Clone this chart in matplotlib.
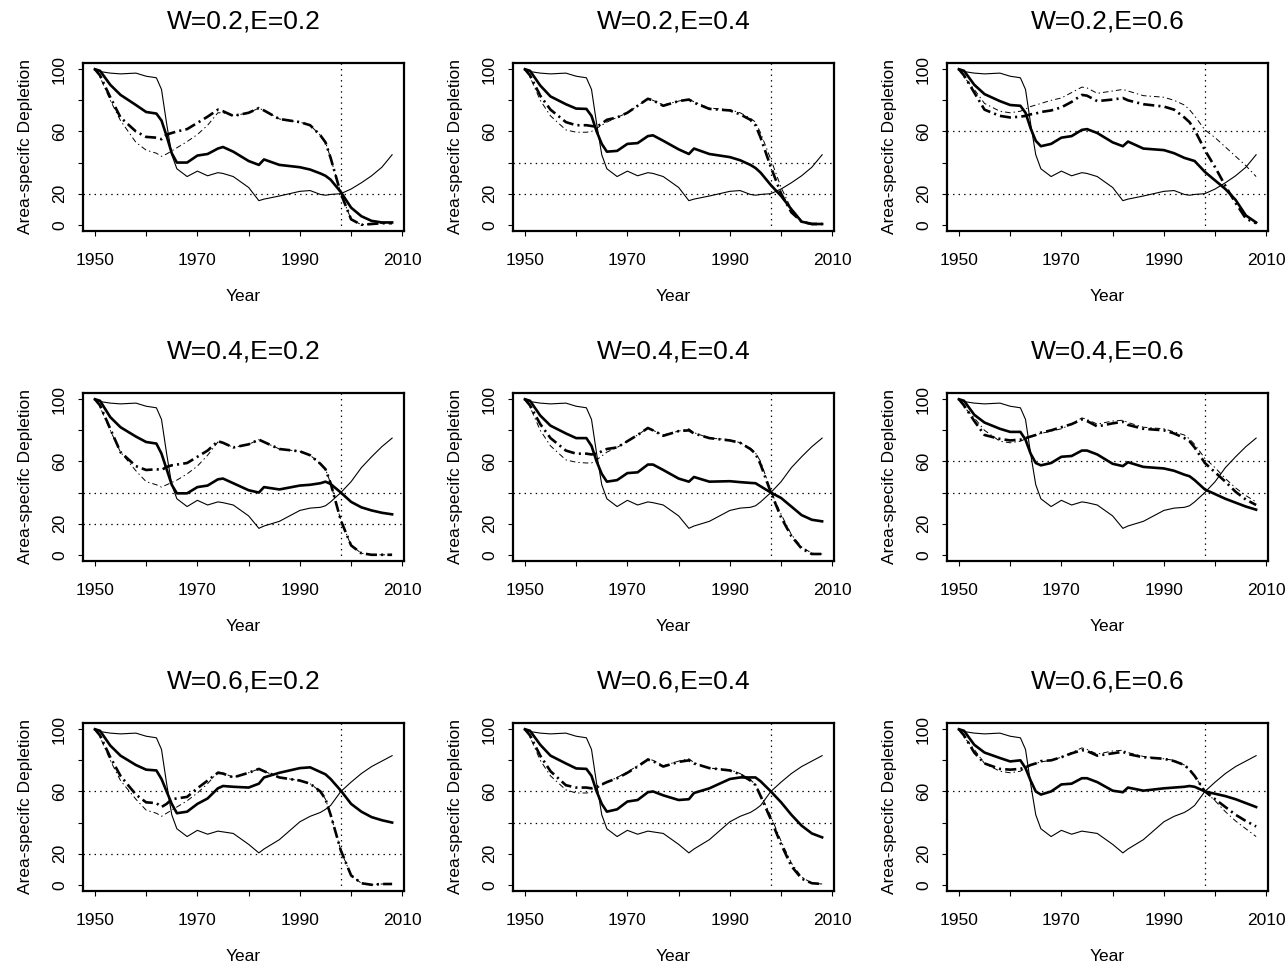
import matplotlib
matplotlib.use("Agg")
import matplotlib.pyplot as plt

plt.rcParams['font.family'] = ['Liberation Sans', 'DejaVu Sans']
plt.rcParams['lines.scale_dashes'] = False

years = [1950, 1951, 1953, 1955, 1958, 1960, 1962, 1963, 1964, 1965, 1966, 1968,
         1970, 1972, 1974, 1975, 1977, 1980, 1982, 1983, 1986, 1990, 1992, 1994,
         1995, 1996, 1998, 2000, 2002, 2004, 2006, 2008]

W_vals = [0.2, 0.4, 0.6]   # rows
E_vals = [0.2, 0.4, 0.6]   # columns
ref_year = 1998

# thin solid line, one per row (W)
thin_w = [
    [100, 98.5, 97.5, 97, 97.5, 95.5, 94.5, 87, 65, 45, 36, 31, 34.5, 31.5, 33.5, 33,
     31, 24, 15.5, 16.5, 18.5, 21.5, 22, 19.5, 19, 19.5, 20, 23, 27, 31.5, 37, 45],
    [100, 98.5, 97.5, 97, 97.5, 95.5, 94.5, 87, 65, 45, 36, 31, 35, 32, 34, 33.5,
     32, 25, 17, 18.5, 21.5, 28.5, 30, 30.5, 31.5, 34, 40, 47, 56, 63, 69.5, 75],
    [100, 98.5, 97.5, 97, 97.5, 95.5, 94.5, 87, 65, 45, 36, 31, 35, 32.5, 34.5, 34,
     33, 26, 20.5, 23, 29, 40.5, 44, 46.5, 48.5, 51, 60, 66, 71.5, 76, 79.5, 83],
]

# thick solid line, [row][col]
thick = [
    [[100, 99, 90, 83.5, 77, 72.5, 71.5, 67, 57, 46, 40, 40, 44.5, 45.5, 49, 50, 47, 41,
      38.5, 42, 38.5, 37, 35.5, 33, 31.5, 29, 21, 11, 5.5, 2.5, 1.5, 1.5],
     [100, 99, 89.5, 82.5, 77.5, 74.7, 74.5, 70, 60, 52, 47, 47.5, 52, 52.5, 57, 57.5, 54,
      48.5, 45.5, 49, 45.5, 43.5, 41.5, 38.5, 36.5, 33.5, 25.5, 18.5, 10, 2, 0.5, 0.5],
     [100, 99, 90, 84, 79.5, 77, 76.5, 72, 62, 54, 50.5, 52, 56, 57, 61, 61.5, 59, 53,
      50.5, 53.5, 49, 48, 46, 43, 42, 41, 34, 28.5, 23, 16, 6, 1.5]],
    [[100, 99, 88.5, 82, 76, 72.5, 71.5, 65, 55, 45, 39.5, 39.5, 43.5, 44.5, 48.5, 49, 46,
      41.5, 40, 43.5, 42, 44.5, 45, 46, 47, 45.5, 40, 34, 30.5, 28.5, 27, 26],
     [100, 99, 89.5, 83, 78, 75, 75, 70, 60, 52, 47, 48, 52.5, 53, 58, 58, 54.5, 49, 47,
      50, 47, 47.3, 46.7, 46.2, 46, 44, 40, 36.5, 31, 25.5, 22.5, 21.5],
     [100, 99, 90, 85, 81, 79, 79, 74, 65, 59, 57.5, 59, 63, 63.5, 67, 67, 64.5, 58.5, 57,
      59.5, 56.5, 55.5, 54, 51.5, 50.5, 48, 42, 39, 36, 33.5, 31, 29]],
    [[100, 99, 89.5, 83, 77, 74, 73.5, 68, 60, 52, 46, 47, 52, 55.5, 62, 63.5, 63, 62.5,
      65, 69, 72, 75, 75.5, 72.5, 71, 68, 60.5, 52, 47, 43.5, 41.5, 40],
     [100, 99, 90, 83, 78, 74.8, 74.5, 70, 60, 52, 47, 48.5, 53.5, 54.5, 59.5, 60, 57.5,
      54.5, 55, 59, 62, 68, 69, 69, 69, 66.5, 60, 53, 45, 38, 33, 30.5],
     [100, 99, 90, 85, 81.5, 79.3, 80, 75, 67, 60, 58, 60, 64.5, 65, 68.5, 68.5, 66, 60.5,
      59.5, 62.5, 60.5, 62, 62.5, 63, 63.5, 63, 60, 58.5, 57, 55, 52.5, 50]],
]

# thick dash-dot line, [row][col]
dash = [
    [[100, 96, 82, 69, 60, 56.5, 56, 55, 58, 59, 60, 61.5, 65.5, 69.5, 74, 73, 70, 72, 75,
      73.5, 68, 66, 64, 57.5, 53, 43, 20, 3.5, 0, 0.5, 1, 1],
     [100, 96, 83, 74, 66, 64, 64, 63.5, 63, 65, 67.5, 69, 72, 76.5, 81, 80, 76.5, 79.5,
      80.5, 78.5, 74.5, 73.5, 71, 67.5, 64, 56, 37, 20, 8, 2, 0.5, 0.5],
     [100, 96, 85, 74, 70, 69, 69.5, 70, 71, 71.5, 72.5, 73.5, 75.5, 79, 83.5, 83, 79.5,
      80.5, 81.5, 80, 77.5, 76, 74, 69, 66, 61, 48, 37, 25, 14, 4, 1]],
    [[100, 96, 81, 66, 57, 54.5, 55, 54.5, 56.5, 57.5, 58, 59, 63, 67, 73, 72, 69, 71, 74,
      72.5, 68, 66.5, 64, 58.5, 55, 46, 22, 6, 1, 0, 0, 0],
     [100, 96, 84, 75, 67, 65, 65, 64.5, 65, 66.5, 68, 69, 73, 77, 81.5, 80, 76.5, 79.5,
      80, 78, 75, 73.5, 72, 68, 65, 58, 40, 24, 12, 4, 0.5, 0.5],
     [100, 96, 86, 77, 74.5, 73.5, 74, 75, 76, 77, 78.5, 80, 82, 84, 87, 86, 82.5, 84.5,
      85.5, 83.5, 81, 80, 78, 75, 73, 69, 59, 53, 47, 40.5, 35.5, 32]],
    [[100, 96, 82, 70, 58, 53, 52.5, 50, 52, 55, 55.5, 56.5, 62, 67, 72, 71.5, 69, 72,
      74.5, 73, 69, 67, 65, 60, 55, 45, 22, 6, 1, 0, 0.5, 0.5],
     [100, 96, 83, 73, 64, 62.5, 62.5, 62, 63, 64.5, 66, 68.5, 72, 76, 80.5, 79.5, 76, 79,
      80, 78, 75, 73.5, 71, 67, 64, 57, 42, 26, 12, 4, 1, 0.5],
     [100, 96, 85, 78, 74.5, 74, 74.5, 75.5, 77, 78, 79.5, 80, 82, 84.5, 86.5, 86, 83,
      84.5, 85.5, 84, 82, 81, 79.5, 77, 74, 70, 60, 55, 50, 45, 41, 37.5]],
]

# thin dot-dash line, [row][col]
dotdash = [
    [[100, 95, 80, 67, 53, 48, 46, 44, 45.5, 47.5, 49.5, 53.5, 58, 64, 72, 72, 70, 72, 75,
      73.5, 68, 66, 64, 57.5, 53, 43, 20, 3.5, 0, 0.5, 1, 1],
     [100, 95, 80, 70, 61, 59.5, 59.5, 60, 62, 64, 66, 69, 72, 76.5, 81, 80, 77, 79.5, 81,
      79, 75, 74, 72, 68.5, 66, 59, 42, 24, 10, 2.5, 0.5, 0.5],
     [100, 95, 87, 78, 73, 72, 73, 74.5, 76, 77, 78, 80, 81.5, 85, 88.5, 88, 84.5, 86, 87,
      86, 83, 82, 80, 77, 74, 70, 61, 56, 50, 44, 38, 31]],
    [[100, 95, 80, 66, 54, 47, 45, 43.5, 45, 46.5, 48, 52, 57, 64, 72.5, 72, 69, 71, 74,
      72.5, 68, 66.5, 64, 58.5, 55, 46, 22, 6, 1, 0, 0, 0],
     [100, 95, 80, 70, 61, 59.5, 59, 59, 61, 63.5, 66, 69, 73, 77, 81.5, 80, 77, 79.5, 81,
      78.5, 75, 74, 72, 68.5, 65.5, 60, 41, 26, 13, 5, 1, 0.5],
     [100, 95, 88, 80, 73, 72, 73, 74.5, 76, 77, 78, 79.5, 81, 84, 88, 87, 84, 86, 86.5,
      85, 82, 81, 79, 77, 74.5, 71, 62, 56, 49, 43, 38, 34]],
    [[100, 95, 80, 67, 55, 48, 46, 44, 46, 48, 50, 54, 59, 65, 72.5, 72, 69, 72, 74.5, 73,
      69, 67, 65, 60, 55, 45, 22, 6, 1, 0, 0.5, 0.5],
     [100, 95, 80, 70, 61, 59, 59, 59.5, 62, 64, 66, 69, 72.5, 76.5, 81, 80, 76.5, 79.5,
      81, 78.5, 75, 74, 71.5, 67.5, 64.5, 58, 44, 28, 14, 5, 1, 0.5],
     [100, 95, 87, 78, 73, 72, 73, 75, 77, 78, 79, 80, 82, 85, 88, 87, 84, 86, 86.5, 85,
      82.5, 81, 80, 77, 74, 70, 60, 54, 47, 41, 36, 31]],
]

fig = plt.figure(figsize=(12.88, 9.69), dpi=100)

col_left = [83, 513, 947]
row_bottom = [231, 561, 891]
ax_w, ax_h = 321, 168
W_px, H_px = 1288, 969

for r in range(3):
    for c in range(3):
        ax = fig.add_axes([col_left[c] / W_px, 1 - row_bottom[r] / H_px,
                           ax_w / W_px, ax_h / H_px])
        ax.plot(years, thin_w[r], color='black', lw=0.8)
        ax.plot(years, thick[r][c], color='black', lw=1.9)
        ax.plot(years, dash[r][c], color='black', lw=1.9, dashes=(8, 3, 1.5, 3))
        ax.plot(years, dotdash[r][c], color='black', lw=0.7, dashes=(4, 2.2, 1, 2.2))

        ax.axhline(W_vals[r] * 100, color='black', lw=0.9, dashes=(1, 3))
        if E_vals[c] != W_vals[r]:
            ax.axhline(E_vals[c] * 100, color='black', lw=0.9, dashes=(1, 3))
        ax.axvline(ref_year, color='black', lw=0.9, dashes=(1, 3))

        ax.set_xlim(1947.68, 2010.32)
        ax.set_ylim(-4, 104)
        ax.set_xticks([1950, 1960, 1970, 1980, 1990, 2000, 2010])
        ax.set_xticklabels(['1950', '', '1970', '', '1990', '', '2010'])
        ax.set_yticks([0, 20, 40, 60, 80, 100])
        ax.set_yticklabels(['0', '20', '', '60', '', '100'], rotation=90, va='center')
        ax.tick_params(axis='x', length=3.5, width=0.8, pad=12, labelsize=12.5)
        ax.tick_params(axis='y', length=3.5, width=0.8, pad=8, labelsize=12.5)
        for s in ax.spines.values():
            s.set_linewidth(1.6)

        ax.set_xlabel('Year', fontsize=12.5)
        ax.xaxis.set_label_coords(0.5, -0.39)
        ax.xaxis.label.set_va('center')
        ax.set_ylabel('Area-specifc Depletion', fontsize=12.5)
        ax.yaxis.set_label_coords(-0.18, 0.5)
        ax.yaxis.label.set_va('center')

        ax.set_title('W=%.1f,E=%.1f' % (W_vals[r], E_vals[c]), fontsize=19,
                     y=1 + 42 / ax_h, va='center', pad=0)

fig.savefig('out.png', dpi=100)
